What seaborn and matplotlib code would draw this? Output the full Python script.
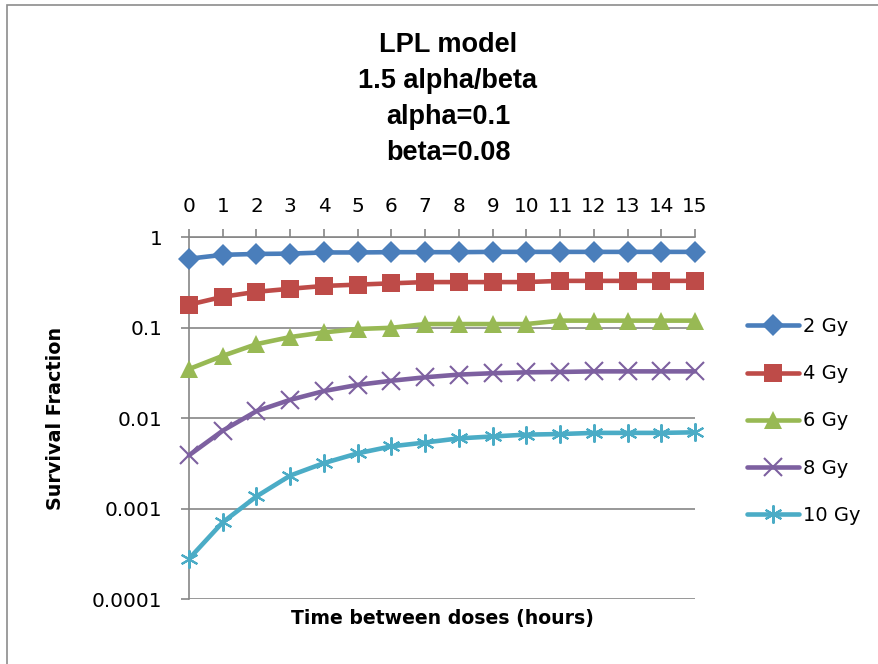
import matplotlib
matplotlib.use("Agg")
import matplotlib.pyplot as plt
from matplotlib.patches import Rectangle
import seaborn as sns
import pandas as pd

# ---- data ----
hours = list(range(16))
dose_labels = ["2 Gy", "4 Gy", "6 Gy", "8 Gy", "10 Gy"]
sf_2gy = [0.58, 0.64, 0.655, 0.66, 0.68, 0.68, 0.685, 0.685, 0.685, 0.69, 0.69, 0.69, 0.69, 0.69, 0.69, 0.69]
sf_4gy = [0.18, 0.22, 0.25, 0.27, 0.29, 0.30, 0.31, 0.32, 0.32, 0.32, 0.32, 0.33, 0.33, 0.33, 0.33, 0.33]
sf_6gy = [0.035, 0.049, 0.066, 0.079, 0.089, 0.097, 0.10, 0.11, 0.11, 0.11, 0.11, 0.12, 0.12, 0.12, 0.12, 0.12]
sf_8gy = [0.0039, 0.0073, 0.012, 0.016, 0.020, 0.0234, 0.026, 0.0284, 0.0304, 0.0315, 0.0322, 0.0325, 0.033, 0.033, 0.033, 0.033]
sf_10gy = [0.00028, 0.00071, 0.00137, 0.00233, 0.0032, 0.0041, 0.0049, 0.0054, 0.0060, 0.0063, 0.0066, 0.0067, 0.0069, 0.0069, 0.0069, 0.0070]
ytick_values = [0.0001, 0.001, 0.01, 0.1, 1]
ytick_labels = ["0.0001", "0.001", "0.01", "0.1", "1"]
title_text = "LPL model\n1.5 alpha/beta\nalpha=0.1\nbeta=0.08"
xlabel_text = "Time between doses (hours)"
ylabel_text = "Survival Fraction"

series = [sf_2gy, sf_4gy, sf_6gy, sf_8gy, sf_10gy]
colors = ["#4A7EBB", "#BE4B48", "#98B954", "#7D60A0", "#4BACC6"]
markers = ["D", "s", "^", "x", (6, 2, 0)]
msizes = [11.5, 13, 13, 13, 13]
mews = [0, 0, 0, 1.5, 1.5]

sns.set_style("white")
plt.rcParams["font.family"] = ["DejaVu Sans"]
plt.rcParams["text.color"] = "black"
plt.rcParams["axes.labelcolor"] = "black"

fig = plt.figure(figsize=(8.79, 6.64), dpi=100)
fig.patch.set_facecolor("white")
# outer chart border (partially cropped in reference)
fig.patches.append(Rectangle((7 / 879, -0.05), 1.1, (664 - 5) / 664 + 0.05,
                             transform=fig.transFigure, fill=False,
                             edgecolor="#8C8C8C", linewidth=1.2, figure=fig))

ax = fig.add_axes([189 / 879, 1 - 599.3 / 664, (695 - 189) / 879, (599.3 - 237.3) / 664])

gray = "#868686"
for lab, vals, c, m, ms, mew in zip(dose_labels, series, colors, markers, msizes, mews):
    df = pd.DataFrame({"Time": hours, "SF": vals})
    sns.lineplot(data=df, x="Time", y="SF", ax=ax, color=c, label=lab,
                 marker=m, markersize=ms, markeredgewidth=mew,
                 markeredgecolor=c, markerfacecolor=c, linewidth=3.3,
                 clip_on=False, zorder=3)

ax.set_yscale("log")
ax.set_ylim(1e-4, 1)
ax.set_xlim(0, 15)
ax.set_yticks(ytick_values)
ax.set_yticklabels(ytick_labels)
ax.yaxis.set_minor_locator(matplotlib.ticker.NullLocator())
ax.set_xticks(hours)
ax.set_xticklabels([str(h) for h in hours])
ax.xaxis.tick_top()

ax.set_axisbelow(True)
ax.yaxis.grid(True, color=gray, linewidth=1.2)
ax.xaxis.grid(False)
for side in ["right", "bottom"]:
    ax.spines[side].set_visible(False)
for side in ["left", "top"]:
    ax.spines[side].set_color(gray)
    ax.spines[side].set_linewidth(1.2)

ax.tick_params(axis="y", which="major", left=True, length=6, width=1.2,
               color=gray, pad=13, labelsize=14.4, labelcolor="black")
ax.tick_params(axis="x", which="major", top=True, bottom=False, length=6, width=1.2,
               color=gray, pad=9, labelsize=14.4, labelcolor="black")

ax.set_xlabel(xlabel_text, fontsize=13.6, fontweight="bold", color="black")
ax.xaxis.set_label_position("bottom")
ax.xaxis.set_label_coords(0.5, -0.026)
ax.xaxis.label.set_verticalalignment("top")
ax.set_ylabel(ylabel_text, fontsize=13.8, fontweight="bold", color="black")
ax.yaxis.set_label_coords(-0.245, 0.5)

fig.text(448 / 879, 1 - 99 / 664, title_text, ha="center", va="center",
         fontsize=19.5, fontweight="bold", linespacing=1.5, color="black",
         family=["Liberation Sans", "DejaVu Sans"])

leg = ax.legend(loc="center left", bbox_to_anchor=(747 / 879, 1 - 421 / 664),
                bbox_transform=fig.transFigure, frameon=False, fontsize=14,
                borderpad=0, borderaxespad=0, handlelength=2.7, handletextpad=0.2,
                labelspacing=1.45)
for t in leg.get_texts():
    t.set_color("black")

fig.savefig("out.png", dpi=100)
